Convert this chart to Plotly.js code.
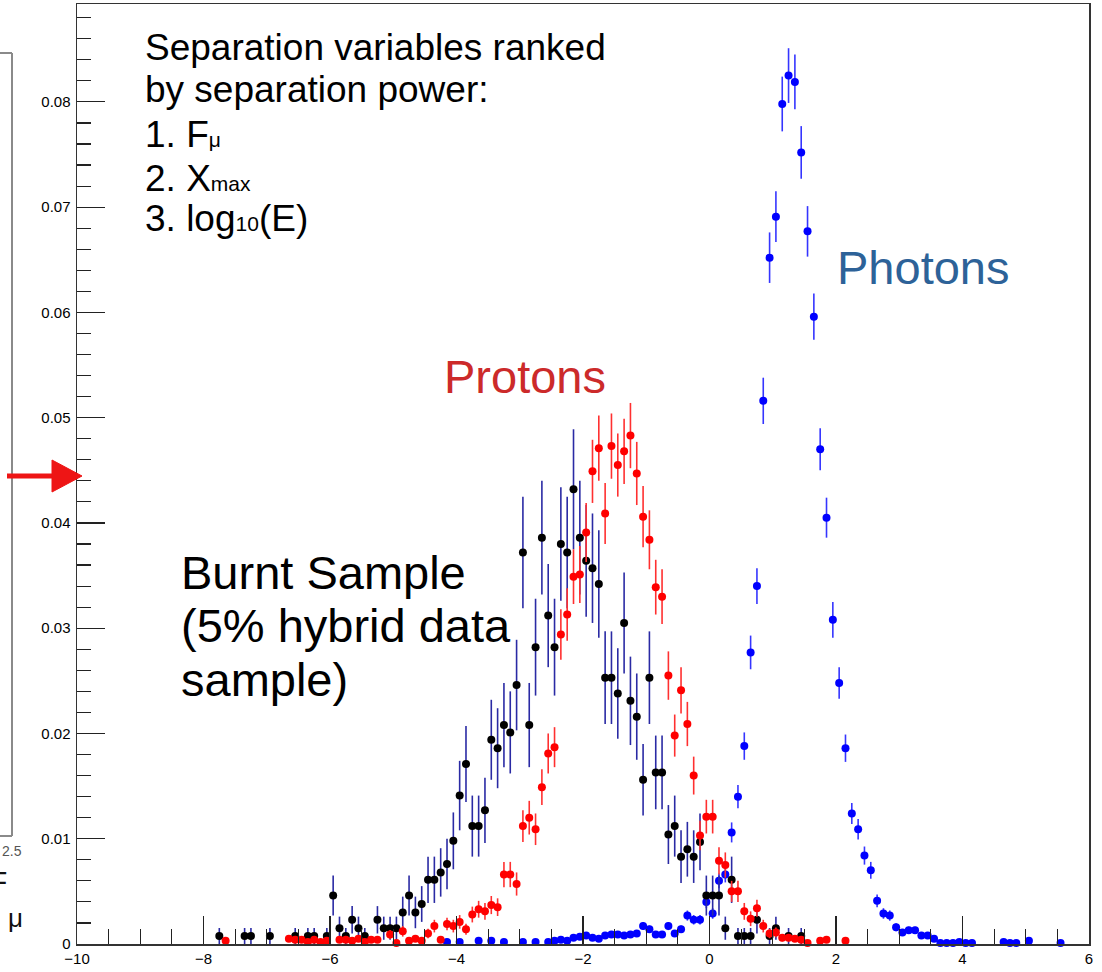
<!DOCTYPE html>
<html><head><meta charset="utf-8">
<script src="https://cdn.plot.ly/plotly-3.0.1.min.js"></script>
<style>html,body{margin:0;padding:0;background:#fff;}#chart{width:1102px;height:972px;}</style>
</head><body><div id="chart"></div>
<script>
// ---- Photons (blue) ----
const photonX = [-4.15,-3.95,-3.65,-3.45,-3.25,-2.95,-2.75,-2.55,-2.45,-2.35,-2.25,-2.15,-2.05,-1.95,-1.85,-1.75,-1.65,-1.55,-1.45,-1.35,-1.25,-1.15,-1.05,-0.95,-0.85,-0.75,-0.65,-0.55,-0.45,-0.35,-0.25,-0.15,-0.05,0.05,0.15,0.25,0.35,0.45,0.55,0.65,0.75,0.85,0.95,1.05,1.15,1.25,1.35,1.45,1.55,1.65,1.75,1.85,1.95,2.05,2.15,2.25,2.35,2.45,2.55,2.65,2.75,2.85,2.95,3.05,3.15,3.25,3.35,3.45,3.55,3.65,3.75,3.85,3.95,4.05,4.15,4.65,4.75,4.85,5.05,5.55];
const photonY = [0.0002,0.0002,0.0003,0.0003,0.0002,0.0002,0.0002,0.0002,0.0003,0.0004,0.0003,0.0006,0.0007,0.0008,0.0006,0.0005,0.0008,0.0009,0.0009,0.0008,0.0009,0.0010,0.0017,0.0014,0.0009,0.0009,0.0017,0.0010,0.0014,0.0027,0.0023,0.0023,0.0040,0.0029,0.0060,0.0066,0.0106,0.0140,0.0188,0.0277,0.0340,0.0516,0.0652,0.0691,0.0798,0.0825,0.0819,0.0752,0.0677,0.0596,0.0470,0.0405,0.0308,0.0248,0.0186,0.0124,0.0109,0.0084,0.0070,0.0041,0.0029,0.0027,0.0016,0.0011,0.0013,0.0013,0.0008,0.0008,0.0005,0.0001,0.0001,0.0001,0.0002,0.0001,0.0001,0.0002,0.0001,0.0001,0.0003,0.0001];
const photonErr = [0.00013,0.00013,0.00015,0.00015,0.00013,0.00013,0.00013,0.00013,0.00015,0.00018,0.00015,0.00022,0.00024,0.00026,0.00022,0.0002,0.00026,0.00028,0.00028,0.00026,0.00028,0.0003,0.00038,0.00035,0.00028,0.00028,0.00038,0.0003,0.00035,0.00048,0.00045,0.00045,0.0006,0.0005,0.0007,0.00075,0.00095,0.0011,0.0013,0.0016,0.0017,0.0022,0.0024,0.0024,0.0026,0.0026,0.0026,0.0025,0.0024,0.0022,0.0020,0.0019,0.0017,0.0015,0.0013,0.0010,0.00098,0.00086,0.0008,0.0006,0.0005,0.00049,0.00038,0.0003,0.00034,0.00034,0.00026,0.00026,0.0002,0.0001,0.0001,0.0001,0.00013,0.0001,0.0001,0.00013,0.0001,0.0001,0.00015,0.0001];

// ---- Protons (red) ----
const protonX = [-7.65,-6.65,-6.55,-6.45,-6.35,-6.25,-6.15,-6.05,-5.85,-5.75,-5.65,-5.55,-5.45,-5.35,-5.25,-5.05,-4.95,-4.85,-4.75,-4.65,-4.55,-4.45,-4.35,-4.25,-4.15,-4.05,-3.95,-3.85,-3.75,-3.65,-3.55,-3.45,-3.35,-3.25,-3.15,-3.05,-2.95,-2.85,-2.75,-2.65,-2.55,-2.45,-2.35,-2.25,-2.15,-2.05,-1.95,-1.85,-1.75,-1.65,-1.55,-1.45,-1.35,-1.25,-1.15,-1.05,-0.95,-0.85,-0.75,-0.65,-0.55,-0.45,-0.35,-0.25,-0.15,-0.05,0.05,0.15,0.25,0.35,0.45,0.55,0.65,0.75,0.85,0.95,1.05,1.15,1.25,1.35,1.45,1.55,1.75,1.85,2.15];
const protonY = [0.0003,0.0005,0.0004,0.0004,0.0002,0.0004,0.0002,0.0003,0.0004,0.0004,0.0003,0.0005,0.0002,0.0004,0.0004,0.0009,0.0001,0.0012,0.0003,0.0005,0.0003,0.0010,0.0017,0.0004,0.0019,0.0017,0.0021,0.0014,0.0028,0.0033,0.0031,0.0037,0.0035,0.0066,0.0066,0.0057,0.0112,0.0120,0.0109,0.0149,0.0181,0.0187,0.0294,0.0313,0.0349,0.0351,0.0391,0.0449,0.0471,0.0409,0.0473,0.0455,0.0468,0.0483,0.0447,0.0406,0.0384,0.0339,0.0330,0.0255,0.0198,0.0241,0.0209,0.0160,0.0103,0.0121,0.0121,0.0079,0.0075,0.0050,0.0050,0.0031,0.0024,0.0034,0.0017,0.0010,0.0011,0.0006,0.0006,0.0005,0.0004,0.0001,0.0003,0.0004,0.0003];
const protonErr = [0.00025,0.0003,0.0003,0.0003,0.0002,0.0003,0.0002,0.00025,0.0003,0.0003,0.00025,0.0003,0.0002,0.0003,0.0003,0.00042,0.00015,0.0005,0.00025,0.0003,0.00025,0.00045,0.0006,0.0003,0.0006,0.0006,0.00065,0.00053,0.00075,0.0008,0.0008,0.00086,0.00084,0.0012,0.0012,0.0011,0.0015,0.0016,0.0015,0.0017,0.0019,0.0019,0.0024,0.0025,0.0026,0.0027,0.0028,0.0030,0.0031,0.0029,0.0031,0.0030,0.0031,0.0031,0.0030,0.0029,0.0028,0.0026,0.0026,0.0023,0.0020,0.0022,0.0021,0.0018,0.0014,0.0016,0.0016,0.0013,0.0012,0.0010,0.0010,0.0008,0.0007,0.0008,0.0006,0.00045,0.00047,0.00035,0.00035,0.0003,0.0003,0.00015,0.00025,0.0003,0.00025];

// ---- Burnt sample data (black) ----
const dataX = [-7.75,-7.35,-7.25,-6.95,-6.55,-6.35,-6.25,-6.05,-5.95,-5.85,-5.75,-5.65,-5.55,-5.45,-5.25,-5.15,-5.05,-4.95,-4.85,-4.75,-4.65,-4.55,-4.45,-4.35,-4.25,-4.15,-4.05,-3.95,-3.85,-3.75,-3.65,-3.55,-3.45,-3.35,-3.25,-3.15,-3.05,-2.95,-2.85,-2.75,-2.65,-2.55,-2.45,-2.35,-2.25,-2.15,-2.05,-1.95,-1.85,-1.75,-1.65,-1.55,-1.45,-1.35,-1.25,-1.15,-1.05,-0.95,-0.85,-0.75,-0.65,-0.55,-0.45,-0.35,-0.25,-0.15,-0.05,0.05,0.15,0.25,0.35,0.45,0.55,0.65,0.75,0.95,1.05,1.25,1.45];
const dataY = [0.00076,0.00076,0.00076,0.00076,0.00076,0.00076,0.00076,0.00076,0.0046,0.0015,0.00076,0.0023,0.0015,0.00076,0.0023,0.0015,0.0015,0.0015,0.0030,0.0046,0.0030,0.0038,0.0061,0.0061,0.0068,0.0076,0.0098,0.0141,0.0171,0.0112,0.0112,0.0127,0.0194,0.0186,0.0208,0.0201,0.0246,0.0372,0.0208,0.0282,0.0386,0.0312,0.0282,0.0380,0.0372,0.0432,0.0386,0.0364,0.0357,0.0342,0.0253,0.0253,0.0238,0.0305,0.0231,0.0216,0.0156,0.0253,0.0163,0.0163,0.0104,0.0112,0.0083,0.0090,0.0083,0.0097,0.0046,0.0046,0.0046,0.0015,0.0061,0.00076,0.00076,0.00076,0.0023,0.00076,0.0015,0.00076,0.00076];
const dataErr = [0.00076,0.00076,0.00076,0.00076,0.00076,0.00076,0.00076,0.00076,0.0019,0.0011,0.00076,0.0013,0.0011,0.00076,0.0013,0.0011,0.0011,0.0011,0.0015,0.0019,0.0015,0.0017,0.0022,0.0022,0.0023,0.0024,0.0027,0.0033,0.0036,0.0029,0.0029,0.0031,0.0038,0.0038,0.0040,0.0039,0.0043,0.0053,0.0040,0.0046,0.0054,0.0049,0.0046,0.0054,0.0053,0.0057,0.0054,0.0053,0.0052,0.0051,0.0044,0.0044,0.0043,0.0048,0.0042,0.0041,0.0034,0.0044,0.0035,0.0035,0.0028,0.0029,0.0025,0.0026,0.0025,0.0027,0.0019,0.0019,0.0019,0.0011,0.0022,0.00076,0.00076,0.00076,0.0013,0.00076,0.0011,0.00076,0.00076];

const xRange = [-10, 6];
const yRange = [0, 0.0893];

// page geometry helpers (pixels -> paper)
const M = {l:77, r:13, t:4, b:28};
const PW = 1102 - M.l - M.r, PH = 972 - M.t - M.b;
const px = p => (p - M.l) / PW;
const py = p => (972 - M.b - p) / PH;

const FONT = 'Liberation Sans, Arial, Helvetica, sans-serif';

function series(x, y, e, mcol, ecol) {
  return {
    type: 'scatter', mode: 'markers', x: x, y: y, cliponaxis: false,
    marker: {color: mcol, size: 8, line: {width: 0}},
    error_y: {type: 'data', array: e, visible: true, color: ecol, thickness: 1.6, width: 0},
    hoverinfo: 'x+y'
  };
}
const traces = [
  series(photonX, photonY, photonErr, '#0000ff', '#3535ff'),
  series(dataX, dataY, dataErr, '#000000', '#2a2aa4'),
  series(protonX, protonY, protonErr, '#ff0000', '#ff3030')
];

function txt(text, x, y, size, color, xanchor) {
  return {text: text, xref: 'paper', yref: 'paper', x: px(x), y: py(y), xanchor: xanchor || 'left', yanchor: 'middle',
          showarrow: false, align: 'left', font: {family: FONT, size: size, color: color || '#000'}};
}
const small = s => '<span style="font-size:21px">' + s + '</span>';

const annotations = [
  txt('Separation variables ranked', 143, 47, 37),
  txt('by separation power:', 143, 90, 37),
  txt('1. F' + small('μ'), 143, 134, 37),
  txt('2. X' + small('max'), 143, 178, 37),
  txt('3. log' + small('10') + '(E)', 143, 219, 37),
  txt('Burnt Sample', 179, 572, 47),
  txt('(5% hybrid data', 179, 625, 47),
  txt('sample)', 179, 679, 47),
  txt('Protons', 525, 376, 47, '#cc2a2a', 'center'),
  txt('Photons', 923, 267, 47, '#2d6298', 'center'),
  txt('2.5', 12, 851, 14, '#555', 'center'),
  txt('F', 9, 881, 30, '#111', 'right'),
  txt('μ', 15, 918, 26, '#111', 'center')
];

const shapes = [
  // fragment of neighbouring panel frame
  {type:'line', xref:'paper', yref:'paper', x0:px(12), x1:px(12), y0:py(53), y1:py(836), line:{color:'#8a8a8a', width:2}},
  {type:'line', xref:'paper', yref:'paper', x0:px(-2), x1:px(12), y0:py(53), y1:py(53), line:{color:'#8a8a8a', width:2}},
  {type:'line', xref:'paper', yref:'paper', x0:px(-2), x1:px(12), y0:py(836), y1:py(836), line:{color:'#8a8a8a', width:2}},
  // red arrow
  {type:'line', xref:'paper', yref:'paper', x0:px(7), x1:px(54), y0:py(476), y1:py(476), line:{color:'#ee1515', width:5}},
  {type:'path', xref:'paper', yref:'paper',
   path:'M'+px(52)+','+py(460)+' L'+px(82)+','+py(476)+' L'+px(52)+','+py(492)+' Z',
   fillcolor:'#ee1515', line:{color:'#ee1515', width:1}}
];

const axisCommon = {
  showgrid: false, zeroline: false, showline: true, mirror: true,
  linecolor: '#333', linewidth: 1.5, ticks: 'inside', ticklen: 28, tickwidth: 1.2, tickcolor: '#222',
  tickfont: {family: FONT, size: 15, color: '#000'}
};

const layout = {
  width: 1102, height: 972, margin: M, showlegend: false,
  paper_bgcolor: '#fff', plot_bgcolor: '#fff',
  xaxis: Object.assign({}, axisCommon, {range: xRange, tickmode: 'linear', tick0: 0, dtick: 2,
    minor: {tickmode: 'linear', tick0: 0, dtick: 0.5, ticks: 'inside', ticklen: 15, tickwidth: 1.2, tickcolor: '#222', showgrid: false}}),
  yaxis: Object.assign({}, axisCommon, {range: yRange, tickmode: 'linear', tick0: 0, dtick: 0.01, ticklabelstandoff: 2,
    minor: {tickmode: 'linear', tick0: 0, dtick: 0.002, ticks: 'inside', ticklen: 14, tickwidth: 1.2, tickcolor: '#222', showgrid: false}}),
  annotations: annotations,
  shapes: shapes
};

Plotly.newPlot('chart', traces, layout, {staticPlot: true, displayModeBar: false});
</script>
</body></html>
